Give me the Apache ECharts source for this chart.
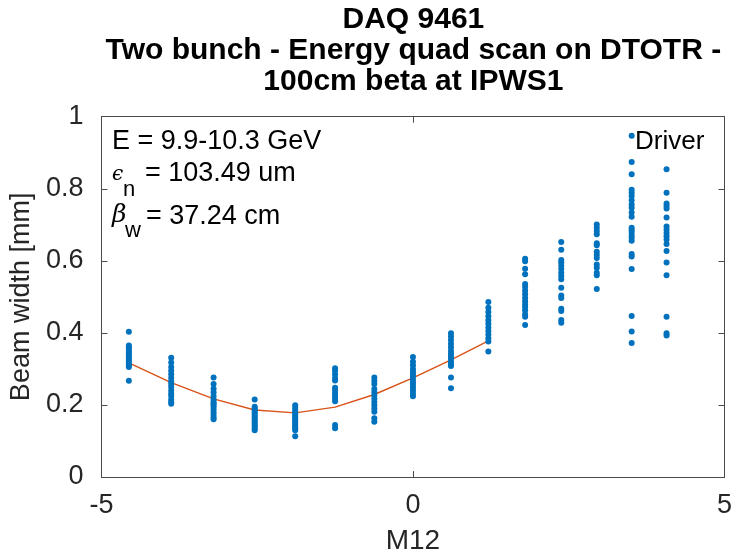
<!DOCTYPE html>
<html><head><meta charset="utf-8">
<script src="https://cdn.jsdelivr.net/npm/echarts@6/dist/echarts.min.js"></script>
<style>html,body{margin:0;padding:0;background:#fff}#c{width:735px;height:560px}</style>
</head><body><div id="c"></div>
<script>
// Quad setting (M12) of each measurement column
const quadSettings = [-4.56, -3.88, -3.20, -2.54, -1.89, -1.25, -0.62, 0.0, 0.61, 1.21, 1.80, 2.38, 2.95, 3.51, 4.07];
// Beam widths [mm] measured at each setting
const w1  = [0.403, 0.365, 0.360, 0.355, 0.350, 0.345, 0.340, 0.335, 0.330, 0.325, 0.320, 0.315, 0.310, 0.305, 0.267];
const w2  = [0.331, 0.318, 0.305, 0.295, 0.285, 0.275, 0.265, 0.258, 0.250, 0.240, 0.232, 0.225, 0.215, 0.208, 0.203];
const w3  = [0.276, 0.258, 0.245, 0.235, 0.225, 0.215, 0.208, 0.205, 0.200, 0.195, 0.188, 0.180, 0.172, 0.165, 0.160];
const w4  = [0.215, 0.195, 0.190, 0.185, 0.180, 0.175, 0.170, 0.165, 0.160, 0.155, 0.150, 0.145, 0.140, 0.135, 0.130];
const w5  = [0.199, 0.192, 0.186, 0.180, 0.175, 0.170, 0.165, 0.160, 0.155, 0.150, 0.145, 0.140, 0.135, 0.130, 0.113];
const w6  = [0.302, 0.295, 0.285, 0.275, 0.268, 0.248, 0.240, 0.232, 0.225, 0.218, 0.210, 0.144, 0.135];
const w7  = [0.276, 0.267, 0.258, 0.244, 0.235, 0.226, 0.217, 0.208, 0.199, 0.190, 0.181, 0.163, 0.153];
const w8  = [0.333, 0.320, 0.310, 0.300, 0.292, 0.285, 0.278, 0.270, 0.262, 0.255, 0.248, 0.240, 0.232, 0.224];
const w9  = [0.399, 0.390, 0.380, 0.370, 0.360, 0.350, 0.342, 0.335, 0.328, 0.320, 0.313, 0.308, 0.276, 0.246];
const w10 = [0.486, 0.470, 0.458, 0.446, 0.435, 0.425, 0.415, 0.405, 0.395, 0.385, 0.376, 0.348];
const w11 = [0.606, 0.599, 0.578, 0.563, 0.536, 0.527, 0.517, 0.507, 0.497, 0.488, 0.479, 0.472, 0.463, 0.452, 0.445, 0.422];
const w12 = [0.652, 0.631, 0.602, 0.595, 0.586, 0.577, 0.567, 0.558, 0.549, 0.525, 0.504, 0.497, 0.467, 0.461, 0.436, 0.428];
const w13 = [0.701, 0.692, 0.683, 0.674, 0.649, 0.643, 0.625, 0.617, 0.608, 0.590, 0.581, 0.567, 0.560, 0.522];
const w14 = [0.947, 0.874, 0.840, 0.797, 0.789, 0.780, 0.768, 0.756, 0.747, 0.734, 0.722, 0.692, 0.686, 0.680, 0.672, 0.665, 0.656, 0.619, 0.612, 0.577, 0.447, 0.404, 0.372];
const w15 = [0.854, 0.789, 0.759, 0.752, 0.745, 0.720, 0.695, 0.686, 0.677, 0.668, 0.659, 0.647, 0.627, 0.595, 0.560, 0.445, 0.399, 0.393];
// Fitted curve (first 10 settings)
const fitX = [-4.56, -3.88, -3.20, -2.54, -1.89, -1.25, -0.62, 0.0, 0.61, 1.21];
const fitY = [0.317, 0.262, 0.217, 0.186, 0.178, 0.194, 0.229, 0.275, 0.325, 0.378];
const xTicks = [-5, 0, 5];
const yTicks = [0, 0.2, 0.4, 0.6, 0.8, 1];

const titleLines = ['DAQ 9461', 'Two bunch - Energy quad scan on DTOTR -', '100cm beta at IPWS1'];

const widthCols = [w1, w2, w3, w4, w5, w6, w7, w8, w9, w10, w11, w12, w13, w14, w15];
const scatterData = [];
quadSettings.forEach((q, i) => widthCols[i].forEach(v => scatterData.push([q, v])));
const fitData = fitX.map((x, i) => [x, fitY[i]]);

const FONT = '"Liberation Sans", Arial, Helvetica, sans-serif';
const AX = '#4a4a4a';
const TXT = '#262626';
const chart = echarts.init(document.getElementById('c'), null, {renderer: 'canvas'});

const axisCommon = {
  axisLine: {show: true, onZero: false, lineStyle: {color: AX, width: 1}},
  axisTick: {show: true, inside: true, length: 6, lineStyle: {color: AX}},
  splitLine: {show: false}
};

chart.setOption({
  animation: false,
  backgroundColor: '#fff',
  grid: {left: 100.7, right: 9, top: 116.7, bottom: 77.3, containLabel: false},
  xAxis: [
    Object.assign({
      type: 'value', min: -5, max: 5, interval: 5, position: 'bottom',
      name: 'M12', nameLocation: 'middle', nameGap: 50,
      nameTextStyle: {fontFamily: FONT, fontSize: 28, color: TXT},
      axisLabel: {fontFamily: FONT, fontSize: 27, color: TXT, margin: 15,
        formatter: v => xTicks.includes(v) ? String(v) : ''}
    }, axisCommon),
    Object.assign({
      type: 'value', min: -5, max: 5, interval: 5, position: 'top',
      axisLabel: {show: false}
    }, axisCommon)
  ],
  yAxis: [
    Object.assign({
      type: 'value', min: 0, max: 1, interval: 0.2, position: 'left',
      name: 'Beam width [mm]', nameLocation: 'middle', nameGap: 60,
      nameTextStyle: {fontFamily: FONT, fontSize: 27, color: TXT},
      axisLabel: {fontFamily: FONT, fontSize: 27, color: TXT, margin: 18,
        formatter: v => { const t = yTicks.find(k => Math.abs(k - v) < 1e-9); return t === undefined ? '' : String(t); }}
    }, axisCommon),
    Object.assign({
      type: 'value', min: 0, max: 1, interval: 0.2, position: 'right',
      axisLabel: {show: false}
    }, axisCommon)
  ],
  series: [
    {
      type: 'scatter', xAxisIndex: 0, yAxisIndex: 0, data: scatterData,
      symbol: 'circle', symbolSize: 6,
      itemStyle: {color: '#0072BD', opacity: 1}
    },
    {
      type: 'line', xAxisIndex: 0, yAxisIndex: 0, data: fitData,
      showSymbol: false, symbol: 'none',
      lineStyle: {color: '#D95319', width: 1.4}, z: 1
    }
  ],
  graphic: [
    {type: 'text', x: 413.4, y: 20, style: {text: titleLines[0], fontFamily: FONT, fontWeight: 'bold', fontSize: 30, fill: '#000', align: 'center', verticalAlign: 'middle'}},
    {type: 'text', x: 413.4, y: 51, style: {text: titleLines[1], fontFamily: FONT, fontWeight: 'bold', fontSize: 30, fill: '#000', align: 'center', verticalAlign: 'middle'}},
    {type: 'text', x: 413.4, y: 82, style: {text: titleLines[2], fontFamily: FONT, fontWeight: 'bold', fontSize: 30, fill: '#000', align: 'center', verticalAlign: 'middle'}},
    {type: 'text', x: 112, y: 142, style: {text: 'E = 9.9-10.3 GeV', fontFamily: FONT, fontSize: 27, fill: '#000', verticalAlign: 'middle'}},
    {type: 'text', x: 112, y: 175, style: {text: 'ϵ', fontFamily: '"DejaVu Serif", serif', fontStyle: 'italic', fontSize: 20, fill: '#000', verticalAlign: 'middle'}},
    {type: 'text', x: 123, y: 190, style: {text: 'n', fontFamily: FONT, fontSize: 22, fill: '#000', verticalAlign: 'middle'}},
    {type: 'text', x: 145, y: 174, style: {text: '= 103.49 um', fontFamily: FONT, fontSize: 27, fill: '#000', verticalAlign: 'middle'}},
    {type: 'text', x: 112, y: 215, style: {text: 'β', fontFamily: '"DejaVu Serif", serif', fontStyle: 'italic', fontSize: 25, fill: '#000', verticalAlign: 'middle'}},
    {type: 'text', x: 125, y: 231, style: {text: 'w', fontFamily: FONT, fontSize: 22, fill: '#000', verticalAlign: 'middle'}},
    {type: 'text', x: 146, y: 217, style: {text: '= 37.24 cm', fontFamily: FONT, fontSize: 27, fill: '#000', verticalAlign: 'middle'}},
    {type: 'text', x: 635, y: 142, style: {text: 'Driver', fontFamily: FONT, fontSize: 26, fill: '#000', verticalAlign: 'middle'}}
  ]
});
</script>
</body></html>
